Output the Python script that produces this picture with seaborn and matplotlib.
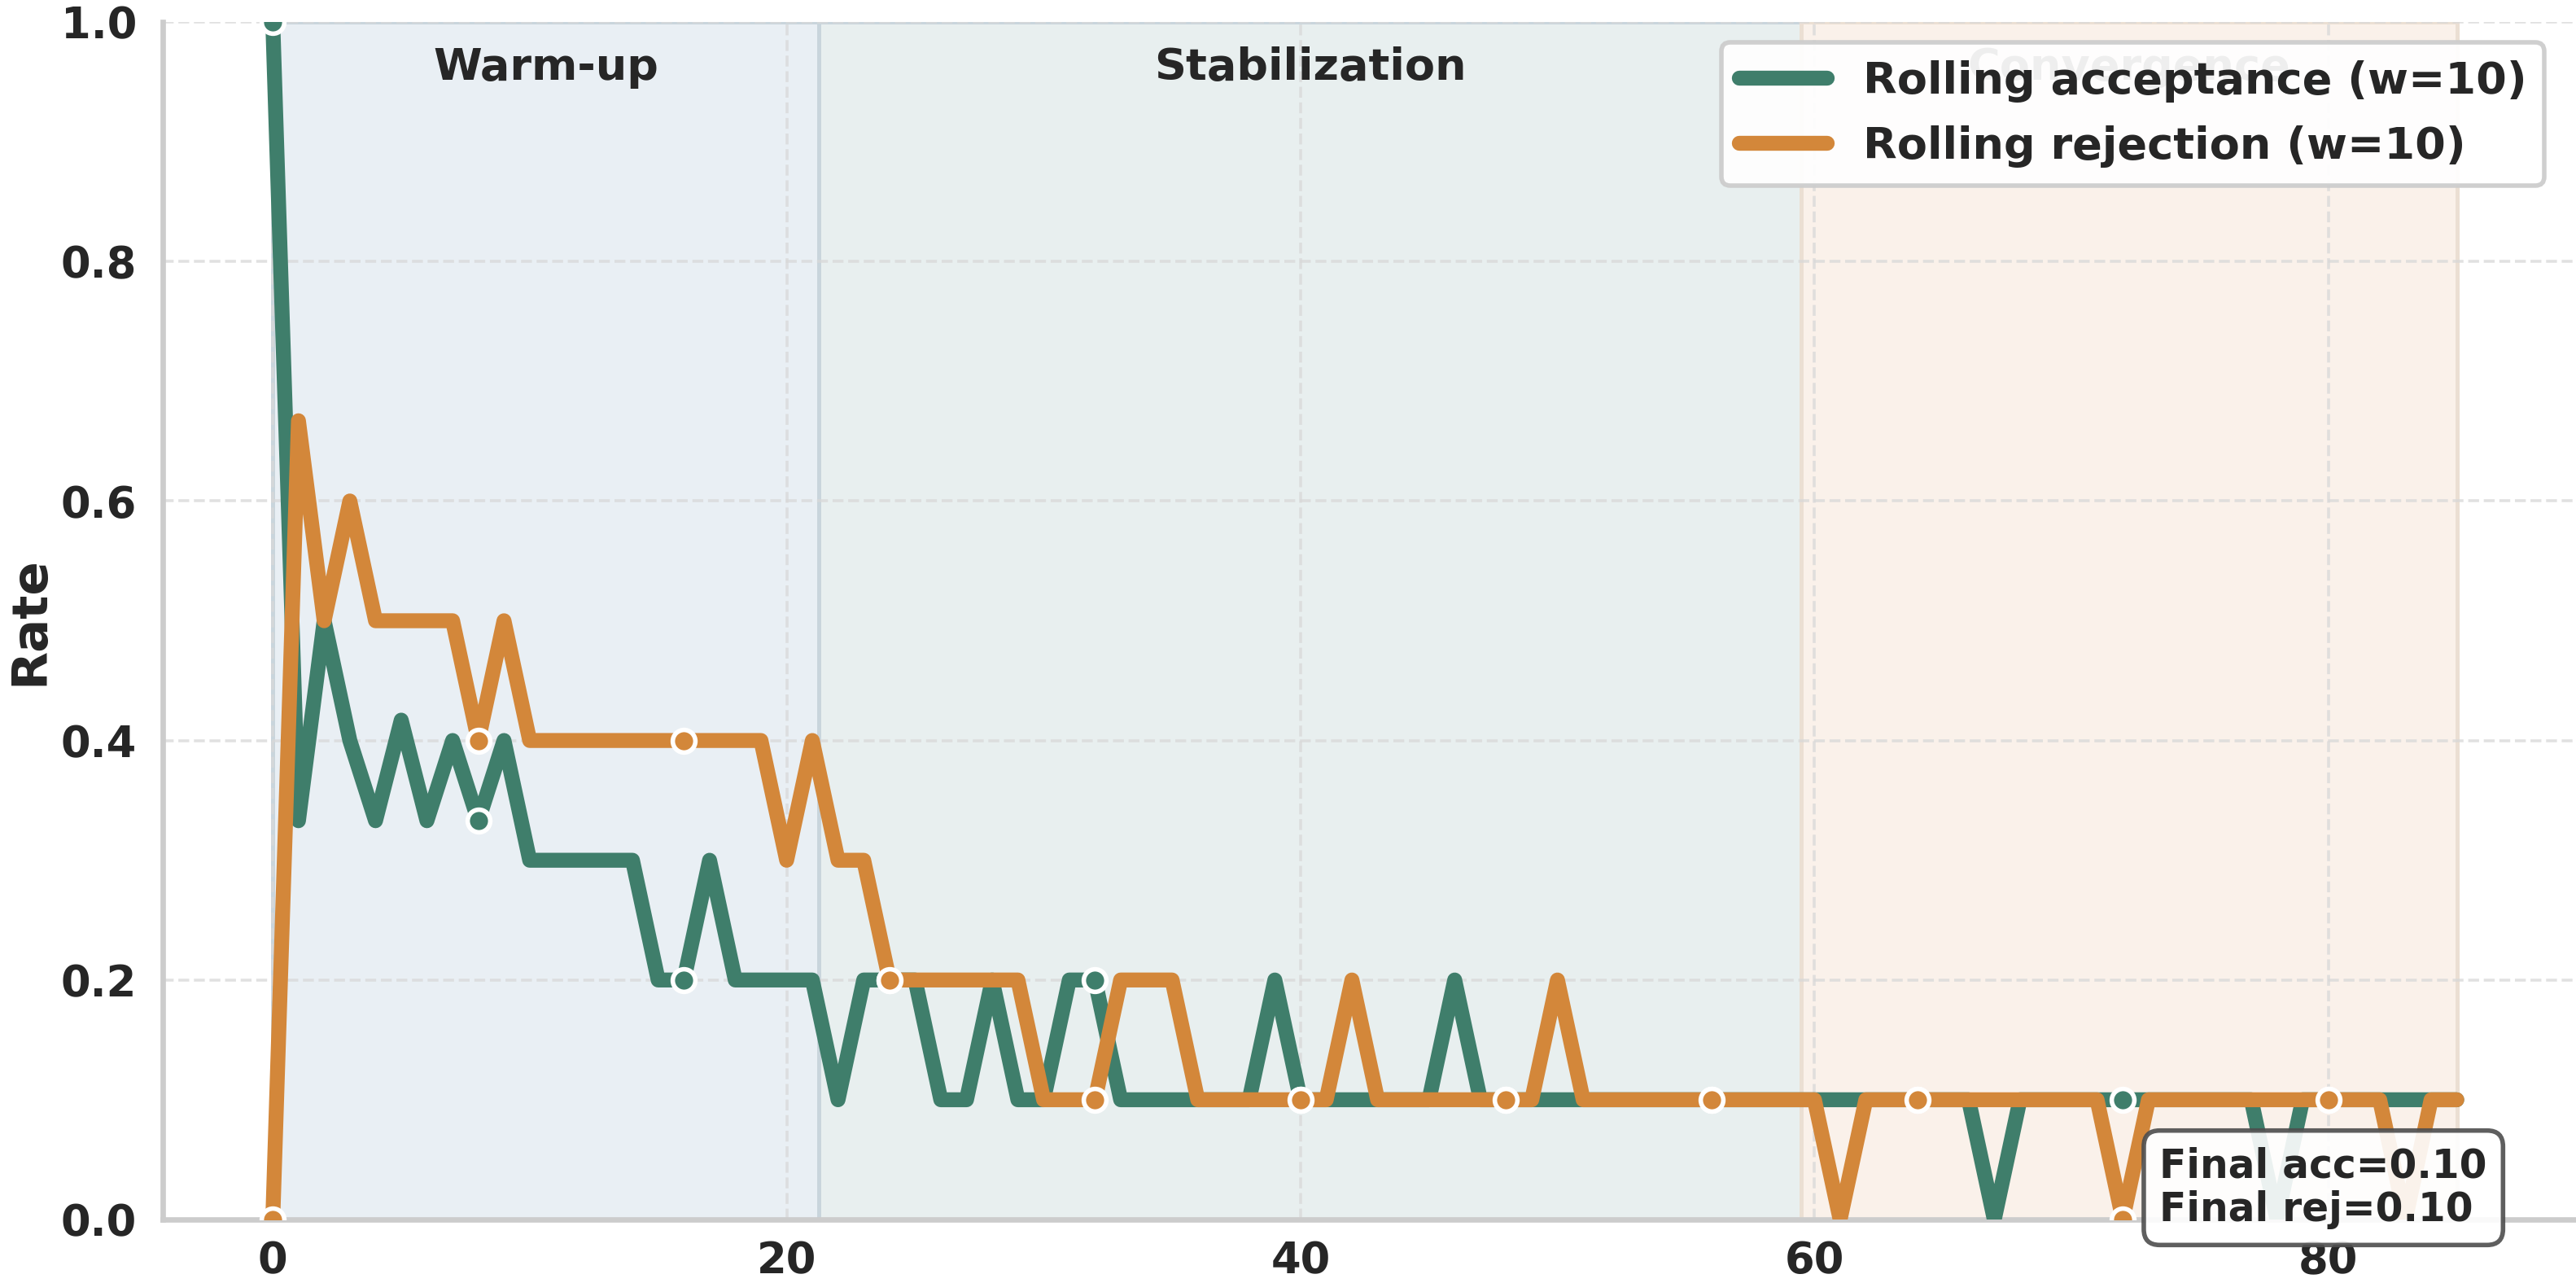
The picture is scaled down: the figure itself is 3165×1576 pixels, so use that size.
import matplotlib
matplotlib.use("Agg")
import matplotlib.pyplot as plt
import matplotlib.transforms as mtransforms
from matplotlib.lines import Line2D
import numpy as np
import pandas as pd
import seaborn as sns

# ---------------- data ----------------
steps = list(range(86))
acceptance = [1.0, 0.333, 0.5, 0.4, 0.333, 0.417, 0.333, 0.4, 0.333, 0.4,
              0.3, 0.3, 0.3, 0.3, 0.3, 0.2, 0.2, 0.3, 0.2, 0.2,
              0.2, 0.2, 0.1, 0.2, 0.2, 0.2, 0.1, 0.1, 0.2, 0.1,
              0.1, 0.2, 0.2, 0.1, 0.1, 0.1, 0.1, 0.1, 0.1, 0.2,
              0.1, 0.1, 0.1, 0.1, 0.1, 0.1, 0.2, 0.1, 0.1, 0.1,
              0.1, 0.1, 0.1, 0.1, 0.1, 0.1, 0.1, 0.1, 0.1, 0.1,
              0.1, 0.1, 0.1, 0.1, 0.1, 0.1, 0.1, 0.0, 0.1, 0.1,
              0.1, 0.1, 0.1, 0.1, 0.1, 0.1, 0.1, 0.1, 0.0, 0.1,
              0.1, 0.1, 0.1, 0.1, 0.1, 0.1]
rejection = [0.0, 0.667, 0.5, 0.6, 0.5, 0.5, 0.5, 0.5, 0.4, 0.5,
             0.4, 0.4, 0.4, 0.4, 0.4, 0.4, 0.4, 0.4, 0.4, 0.4,
             0.3, 0.4, 0.3, 0.3, 0.2, 0.2, 0.2, 0.2, 0.2, 0.2,
             0.1, 0.1, 0.1, 0.2, 0.2, 0.2, 0.1, 0.1, 0.1, 0.1,
             0.1, 0.1, 0.2, 0.1, 0.1, 0.1, 0.1, 0.1, 0.1, 0.1,
             0.2, 0.1, 0.1, 0.1, 0.1, 0.1, 0.1, 0.1, 0.1, 0.1,
             0.1, 0.0, 0.1, 0.1, 0.1, 0.1, 0.1, 0.1, 0.1, 0.1,
             0.1, 0.1, 0.0, 0.1, 0.1, 0.1, 0.1, 0.1, 0.1, 0.1,
             0.1, 0.1, 0.1, 0.0, 0.1, 0.1]
series_labels = ["Rolling acceptance (w=10)", "Rolling rejection (w=10)"]
phase_names = ["Warm-up", "Stabilization", "Convergence"]
phase_starts = [0.0, 21.25, 59.5]
phase_ends = [21.25, 59.5, 85.0]
x_ticks = [0, 20, 40, 60, 80]
y_ticks = [0.0, 0.2, 0.4, 0.6, 0.8, 1.0]

# ---------------- style ----------------
sns.set_theme(style="whitegrid")
plt.rcParams["font.family"] = ["DejaVu Sans"]
plt.rcParams["font.weight"] = "bold"
plt.rcParams["axes.labelweight"] = "bold"

TEXT = "#262626"
colors = {series_labels[0]: "#3f7e6b", series_labels[1]: "#d3873a"}
phase_face = ["#e9eff4", "#e8efef", "#faf1ea"]
phase_edge = ["#c9d5dc", "#c9d5dc", "#ebdfd3"]

df = pd.DataFrame({
    "step": steps * 2,
    "rate": acceptance + rejection,
    "series": [series_labels[0]] * len(steps) + [series_labels[1]] * len(steps),
})

W, H, DPI = 3165, 1576, 200
fig = plt.figure(figsize=(W / DPI, H / DPI), dpi=DPI)
left, bottom, top = 200 / W, 78 / H, 27 / H
ax = fig.add_axes([left, bottom, 1 - left, 1 - bottom - top])

# phase spans
for s, e, fc, ec in zip(phase_starts, phase_ends, phase_face, phase_edge):
    ax.axvspan(s, e, facecolor=fc, edgecolor=ec, linewidth=1.8, zorder=0.1)

LW = 6.6
# lines
sns.lineplot(data=df, x="step", y="rate", hue="series", hue_order=series_labels,
             palette=colors, linewidth=LW, marker="o", markersize=10,
             markeredgecolor="white", markeredgewidth=2, markevery=8,
             solid_capstyle="round", solid_joinstyle="round",
             legend=False, ax=ax, zorder=3)

ax.set_xlim(-4.28, 89.64)
ax.set_ylim(0, 1.0)
ax.set_xticks(x_ticks)
ax.set_yticks(y_ticks)
ax.set_yticklabels([f"{v:.1f}" for v in y_ticks])
ax.set_xlabel("")
ax.set_ylabel("Rate", fontsize=22, fontweight="bold", color=TEXT)
ax.yaxis.set_label_coords(-0.045, 0.5)

ax.grid(True, linestyle="--", color="#d8d8d8", linewidth=1.3, alpha=0.75)
ax.set_axisbelow(True)
for side in ["top", "right"]:
    ax.spines[side].set_visible(False)
for side in ["left", "bottom"]:
    ax.spines[side].set_color("#cccccc")
    ax.spines[side].set_linewidth(2.4)

ax.tick_params(axis="both", length=0, labelsize=19, labelcolor=TEXT)
ax.tick_params(axis="y", pad=11.5)
ax.tick_params(axis="x", pad=9)
for lab in ax.get_xticklabels() + ax.get_yticklabels():
    lab.set_fontweight("bold")

# phase labels
trans = mtransforms.blended_transform_factory(ax.transData, ax.transAxes)
for name, s, e in zip(phase_names, phase_starts, phase_ends):
    ax.text((s + e) / 2, 0.952, name, transform=trans, ha="center", va="baseline",
            fontsize=19.5, fontweight="bold", color=TEXT, zorder=2)

# legend
handles = [Line2D([0], [0], color=colors[l], linewidth=LW, solid_capstyle="round")
           for l in series_labels]
leg = ax.legend(handles, series_labels, loc="upper right",
                bbox_to_anchor=(0.9868, 0.983), borderaxespad=0,
                fontsize=19.5, frameon=True, fancybox=True, framealpha=0.93,
                facecolor="white", edgecolor="#cccccc",
                handlelength=2.0, handletextpad=0.8, labelspacing=0.52,
                borderpad=0.4)
leg.get_frame().set_linewidth(2)
for t in leg.get_texts():
    t.set_fontweight("bold")
    t.set_color(TEXT)
leg.set_zorder(6)

# final annotation
ax.text(0.9632, 0.0265,
        f"Final acc={acceptance[-1]:.2f}\nFinal rej={rejection[-1]:.2f}",
        transform=ax.transAxes, ha="right", va="center", multialignment="left",
        fontsize=17.5, fontweight="bold", color=TEXT, linespacing=1.15,
        bbox=dict(boxstyle="round,pad=0.4", facecolor="white",
                  edgecolor="#4d4d4d", linewidth=2, alpha=0.9),
        zorder=7)

fig.savefig("out.png", dpi=DPI)
